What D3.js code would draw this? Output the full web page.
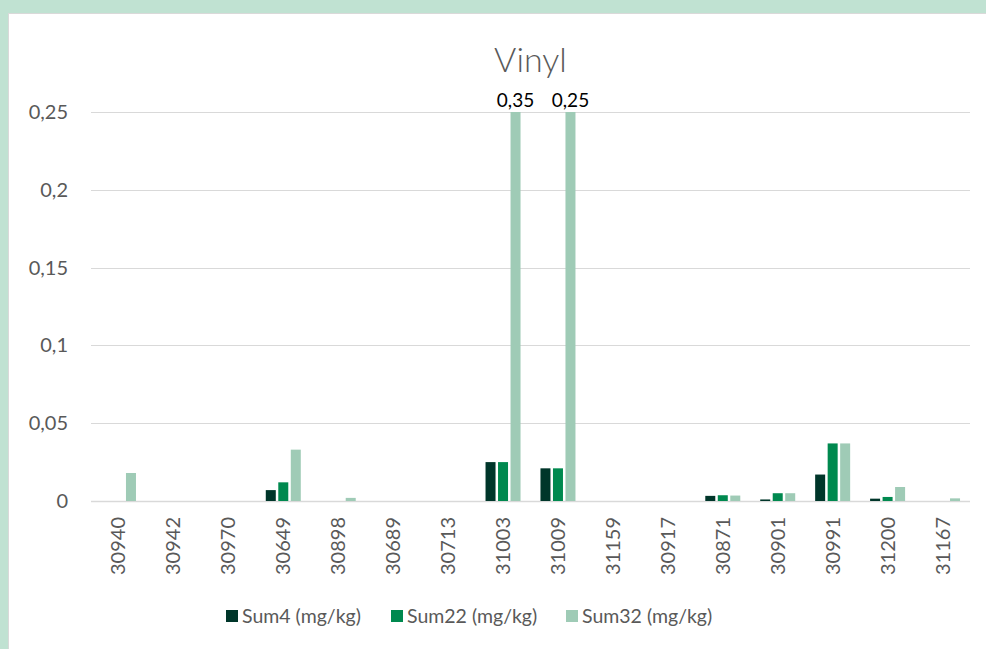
<!DOCTYPE html>
<html>
<head>
<meta charset="utf-8">
<script src="https://cdn.jsdelivr.net/npm/d3@7"></script>
<style>
  html, body { margin: 0; padding: 0; background: #c0e2d2; }
  #viz { width: 986px; height: 649px; overflow: hidden; }
  text { font-family: Lato, 'Open Sans', sans-serif; }
</style>
</head>
<body>
<div id="viz"></div>
<script>
'use strict';

const categories = ['30940', '30942', '30970', '30649', '30898', '30689', '30713',
  '31003', '31009', '31159', '30917', '30871', '30901', '30991', '31200', '31167'];

const sum4 = [0, 0, 0, 0.007, 0, 0, 0, 0.025, 0.021, 0, 0, 0.0033, 0.001, 0.017, 0.0015, 0];
const sum22 = [0, 0, 0, 0.012, 0, 0, 0, 0.025, 0.021, 0, 0, 0.0037, 0.005, 0.037, 0.0026, 0];
const sum32 = [0.018, 0, 0, 0.033, 0.002, 0, 0, 0.35, 0.25, 0, 0, 0.0035, 0.005, 0.037, 0.009, 0.0017];

const seriesNames = ['Sum4 (mg/kg)', 'Sum22 (mg/kg)', 'Sum32 (mg/kg)'];
const yTicks = [0, 0.05, 0.1, 0.15, 0.2, 0.25];

const colors = ['#00362a', '#00894f', '#9fcbb6'];
const series = [sum4, sum22, sum32];

const W = 986;
const H = 649;
const margin = {top: 112, right: 16, bottom: 148, left: 91};
const width = W - margin.left - margin.right;
const height = H - margin.top - margin.bottom;
const yMax = 0.25;

const fmt = v => String(v).replace('.', ',');

const root = d3.select('#viz')
  .append('svg')
    .attr('width', W)
    .attr('height', H);

// white chart panel on the green page
root.append('rect')
  .attr('x', 8.5)
  .attr('y', 13.5)
  .attr('width', W)
  .attr('height', H)
  .attr('fill', '#fff')
  .attr('stroke', '#d9d9d9');

root.append('text')
  .attr('x', margin.left + width / 2)
  .attr('y', 72)
  .attr('text-anchor', 'middle')
  .attr('fill', '#595959')
  .style('font-size', '34px')
  .style('font-weight', 300)
  .text('Vinyl');

const svg = root.append('g')
  .attr('transform', `translate(${margin.left},${margin.top})`);

const x = d3.scaleBand()
  .domain(categories)
  .range([0, width]);

const xs = d3.scaleBand()
  .domain(d3.range(series.length))
  .range([x.bandwidth() / 2 - 17.5, x.bandwidth() / 2 + 17.5])
  .paddingInner(0.2);

const y = d3.scaleLinear()
  .domain([0, yMax])
  .range([height, 0]);

// gridlines
svg.append('g')
  .selectAll('line')
  .data(yTicks)
  .join('line')
    .attr('x1', 0)
    .attr('x2', width)
    .attr('y1', d => Math.round(y(d)) + 0.5)
    .attr('y2', d => Math.round(y(d)) + 0.5)
    .attr('stroke', '#d9d9d9')
    .attr('stroke-width', d => d === 0 ? 1.5 : 1);

// y axis labels
svg.append('g')
  .call(d3.axisLeft(y).tickValues(yTicks).tickSize(0).tickPadding(23).tickFormat(fmt))
  .call(g => g.select('.domain').remove())
  .call(g => g.selectAll('text')
    .attr('fill', '#595959')
    .style('font-size', '20px'));

// x axis labels
svg.append('g')
  .attr('transform', `translate(0,${height})`)
  .call(d3.axisBottom(x).tickSize(0))
  .call(g => g.select('.domain').remove())
  .call(g => g.selectAll('text')
    .attr('fill', '#595959')
    .style('font-size', '20px')
    .attr('text-anchor', 'end')
    .attr('transform', 'rotate(-90)')
    .attr('x', -16)
    .attr('y', 0)
    .attr('dy', '0.35em'));

// bars
series.forEach((vals, si) => {
  svg.append('g')
    .selectAll('rect')
    .data(vals)
    .join('rect')
      .attr('x', (d, i) => x(categories[i]) + xs(si))
      .attr('width', xs.bandwidth())
      .attr('y', d => y(Math.min(d, yMax)))
      .attr('height', d => height - y(Math.min(d, yMax)))
      .attr('fill', colors[si]);
});

// labels for the bars that run past the axis
svg.append('g')
  .selectAll('text')
  .data(sum32.map((v, i) => ({v, i})).filter(d => d.v >= yMax))
  .join('text')
    .attr('x', d => x(categories[d.i]) + xs(2) + xs.bandwidth() / 2)
    .attr('y', y(yMax) - 5)
    .attr('text-anchor', 'middle')
    .attr('fill', '#000')
    .style('font-size', '19px')
    .text(d => fmt(d.v));

// legend
const legendX = [226, 391, 566];
const legend = root.append('g');

seriesNames.forEach((name, i) => {
  legend.append('rect')
    .attr('x', legendX[i])
    .attr('y', 610)
    .attr('width', 12)
    .attr('height', 12)
    .attr('fill', colors[i]);

  legend.append('text')
    .attr('x', legendX[i] + 16)
    .attr('y', 616)
    .attr('dy', '0.35em')
    .attr('fill', '#595959')
    .style('font-size', '19.5px')
    .text(name);
});
</script>
</body>
</html>
